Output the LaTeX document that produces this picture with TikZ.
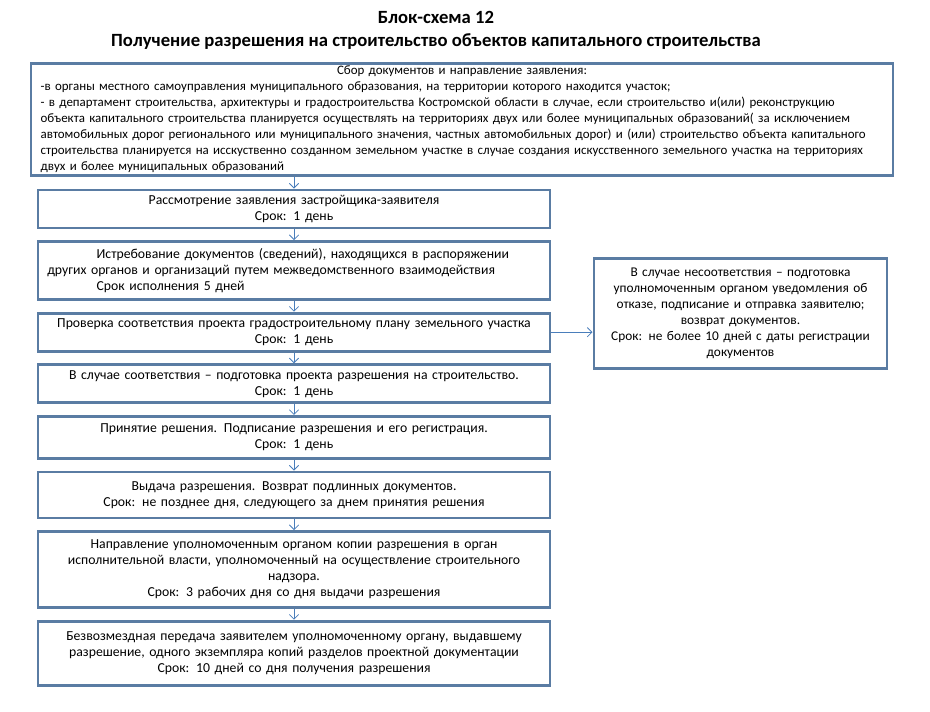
\documentclass[tikz,border=0pt]{standalone}
\usepackage{fontspec}
\setmainfont{Carlito}
\usepackage{xcolor}
\usepackage{tikz}
\usetikzlibrary{arrows.meta,positioning}

\definecolor{framecol}{HTML}{5A7CA3}
\definecolor{arrowcol}{HTML}{4A7EBB}

\begin{document}
\begin{tikzpicture}[x=0.75pt, y=-0.75pt, node distance=8pt,
  stage/.style={draw=framecol, line width=2.2pt, fill=white, align=center, font=\fontsize{10.3}{12}\selectfont, minimum width=384pt, text width=370pt, inner xsep=7pt, inner ysep=2pt},
  flow/.style={draw=arrowcol, line width=0.6pt, -{Straight Barb[length=3.5pt,width=7pt]}},
  heading/.style={font=\fontsize{14}{16}\selectfont\bfseries, inner sep=0pt}]
\useasboundingbox (0,0) rectangle (930,712);
\node[heading] (title) at (436,17) {Блок-схема 12};
\node[heading] (subtitle) at (436,42) {Получение разрешения на строительство объектов капитального строительства};

\node[stage, minimum width=646.5pt, text width=640pt, inner xsep=3.25pt, minimum height=83pt, align=left, font=\fontsize{9.7}{12}\selectfont] (collect) at (462,119.5) {\makebox[\hsize]{Сбор документов и направление заявления:}\\
\hspace*{4pt}-в органы местного самоуправления муниципального образования,  на территории которого находится участок;\\
\hspace*{4pt}- в департамент строительства, архитектуры и градостроительства Костромской области в случае, если строительство и(или) реконструкцию\\
\hspace*{4pt}объекта капитального строительства планируется осуществлять на территориях двух или более муниципальных образований( за исключением\\
\hspace*{4pt}автомобильных дорог регионального или муниципального значения, частных автомобильных дорог) и (или) строительство объекта капитального\\
\hspace*{4pt}строительства планируется на исскуственно созданном земельном участке в случае создания искусственного земельного участка на территориях\\
\hspace*{4pt}двух и более муниципальных образований};

\node[stage, minimum height=28.5pt] (review) at (294,209) {Рассмотрение заявления застройщика-заявителя\\Срок: 1 день};
\node[stage, minimum height=43.5pt, align=left, below=of review] (request) {\hspace*{37pt}Истребование документов (сведений), находящихся в распоряжении\\
других органов и организаций путем межведомственного взаимодействия\\
\hspace*{37pt}Срок исполнения 5 дней};
\node[stage, minimum height=28.5pt, below=of request] (check) {Проверка соответствия проекта градостроительному плану земельного участка\\Срок: 1 день};
\node[stage, minimum height=28.5pt, below=of check] (prepare) {В случае соответствия – подготовка проекта разрешения на строительство.\\Срок: 1 день};
\node[stage, minimum height=31.5pt, below=of prepare] (decide) {Принятие решения. Подписание разрешения и его регистрация.\\Срок: 1 день};
\node[stage, minimum height=34.5pt, below=of decide] (issue) {Выдача разрешения. Возврат подлинных документов.\\Срок: не позднее дня, следующего за днем принятия решения};
\node[stage, minimum height=57pt, below=of issue] (notify) {Направление уполномоченным органом копии разрешения в орган\\
исполнительной власти, уполномоченный на осуществление строительного\\
надзора.\\
Срок: 3 рабочих дня со дня выдачи разрешения};
\node[stage, minimum height=48pt, below=of notify] (transfer) {Безвозмездная передача заявителем уполномоченному органу, выдавшему\\
разрешение, одного экземпляра копий разделов проектной документации\\
Срок: 10 дней со дня получения разрешения};

\node[stage, font=\fontsize{10}{12}\selectfont, minimum width=219.75pt, text width=208pt, inner xsep=5.8pt, minimum height=82.5pt, right=30.8pt of check, yshift=14pt] (refusal) {В случае несоответствия – подготовка\\
уполномоченным органом уведомления об\\
отказе, подписание и отправка заявителю;\\
возврат документов.\\
Срок: не более 10 дней с даты регистрации\\
документов};

\draw[flow] (collect.south -| review.north) -- (review.north);
\draw[flow] (review) -- (request);
\draw[flow] (request) -- (check);
\draw[flow] (check) -- (prepare);
\draw[flow] (prepare) -- (decide);
\draw[flow] (decide) -- (issue);
\draw[flow] (issue) -- (notify);
\draw[flow] (notify) -- (transfer);
\draw[flow] (check.east) -- (check.east -| refusal.west);
\end{tikzpicture}
\end{document}
